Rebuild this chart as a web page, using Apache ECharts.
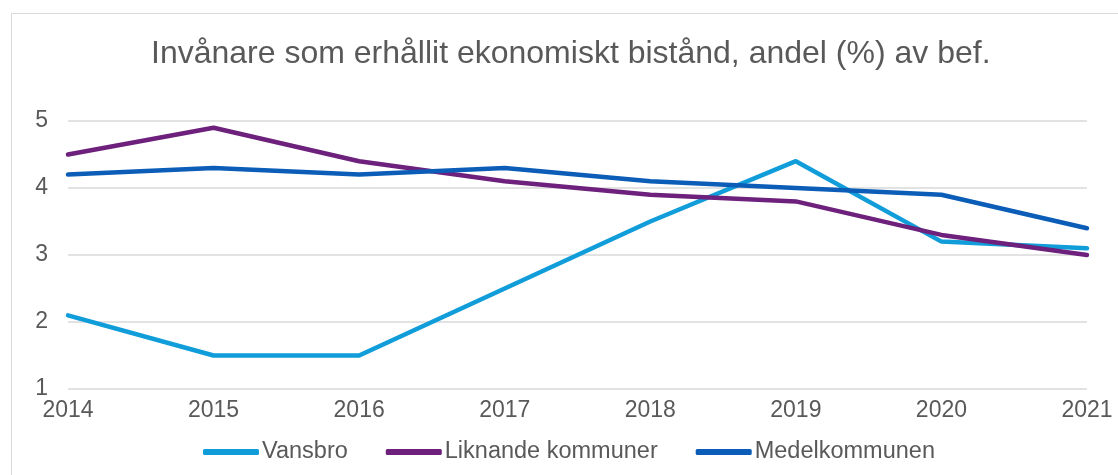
<!DOCTYPE html>
<html>
<head>
<meta charset="utf-8">
<script src="https://cdn.jsdelivr.net/npm/echarts@6/dist/echarts.min.js"></script>
<style>
	html, body { margin: 0; padding: 0; background: #ffffff; }
	#frame {
		position: absolute; left: 11px; top: 13px;
		width: 1200px; height: 500px;
		border: 1.5px solid #d9d9d9;
		box-sizing: border-box;
	}
	#chart { position: absolute; left: 0; top: 0; width: 1118px; height: 475px; }
</style>
</head>
<body>
<div id="frame"></div>
<div id="chart"></div>
<script>
	var years = ['2014', '2015', '2016', '2017', '2018', '2019', '2020', '2021'];
	var vansbro = [2.1, 1.5, 1.5, 2.5, 3.5, 4.4, 3.2, 3.1];
	var liknande = [4.5, 4.9, 4.4, 4.1, 3.9, 3.8, 3.3, 3.0];
	var medel = [4.2, 4.3, 4.2, 4.3, 4.1, 4.0, 3.9, 3.4];

	var myChart = echarts.init(document.getElementById('chart'));
	var font = 'Liberation Sans, Arial, sans-serif';

	var option = {
		animation: false,
		color: ['#109dd9', '#6d207c', '#0b5db7'],
		title: {
			text: 'Invånare som erhållit ekonomiskt bistånd, andel (%) av bef.',
			left: 146,
			top: 33,
			textStyle: { fontFamily: font, fontSize: 32, fontWeight: 'normal', color: '#595959' }
		},
		legend: {
			top: 435,
			left: 198,
			itemWidth: 56,
			itemHeight: 6,
			itemGap: 38,
			icon: 'roundRect',
			textStyle: { fontFamily: font, fontSize: 23.5, color: '#595959', padding: [0, 0, 0, -2] },
			data: ['Vansbro', 'Liknande kommuner', 'Medelkommunen']
		},
		grid: { left: 68, right: 31, top: 121, bottom: 86 },
		xAxis: {
			type: 'category',
			data: years,
			boundaryGap: false,
			axisLine: { show: false },
			axisTick: { show: false },
			axisLabel: { fontFamily: font, fontSize: 23, color: '#595959', margin: 10 }
		},
		yAxis: {
			type: 'value',
			min: 1,
			max: 5,
			interval: 1,
			axisLine: { show: false },
			axisTick: { show: false },
			axisLabel: { fontFamily: font, fontSize: 23, color: '#595959', margin: 20 },
			splitLine: { lineStyle: { color: '#d9d9d9', width: 1.5 } }
		},
		series: [
			{ name: 'Vansbro', type: 'line', data: vansbro, symbol: 'none', lineStyle: { width: 4.5, cap: 'round' } },
			{ name: 'Liknande kommuner', type: 'line', data: liknande, symbol: 'none', lineStyle: { width: 4.5, cap: 'round' } },
			{ name: 'Medelkommunen', type: 'line', data: medel, symbol: 'none', lineStyle: { width: 4.5, cap: 'round' } }
		]
	};

	option && myChart.setOption(option);
</script>
</body>
</html>
